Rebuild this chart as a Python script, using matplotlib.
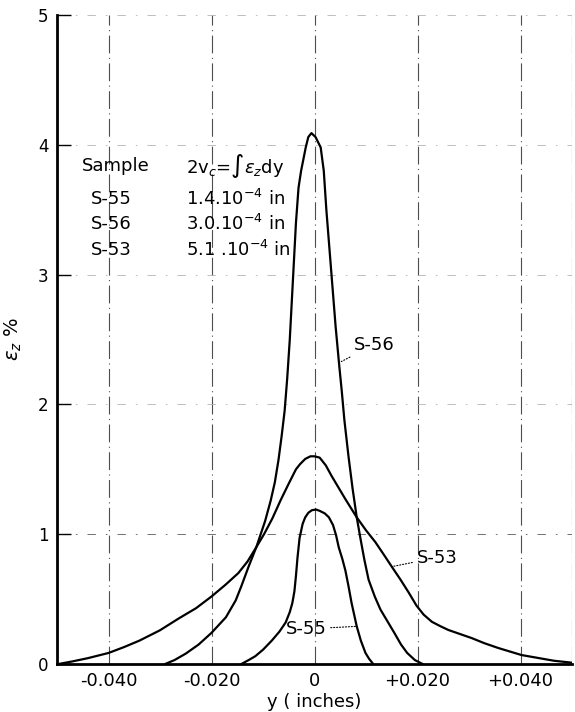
import numpy as np
import matplotlib
matplotlib.use("Agg")
import matplotlib.pyplot as plt

# values (y in inches, strain in %)
s55_y = [-0.0142, -0.0128, -0.0115, -0.0100, -0.0083, -0.0068, -0.0056, -0.0048,
         -0.0043, -0.0039, -0.0036, -0.0033, -0.0029, -0.0023, -0.0018, -0.0012,
         -0.0005, 0.0003, 0.0010, 0.0020, 0.0028, 0.0036, 0.0042, 0.0047, 0.0054,
         0.0060, 0.0066, 0.0072, 0.0077, 0.0082, 0.0090, 0.0099, 0.0106, 0.0114]
s55_e = [0.0, 0.03, 0.06, 0.11, 0.18, 0.25, 0.32, 0.40,
         0.47, 0.56, 0.68, 0.82, 0.97, 1.08, 1.13, 1.165,
         1.185, 1.19, 1.18, 1.16, 1.13, 1.07, 0.99, 0.90, 0.81,
         0.72, 0.60, 0.47, 0.38, 0.29, 0.18, 0.085, 0.04, 0.0]

s56_y = [-0.0290, -0.0272, -0.0250, -0.0225, -0.0200, -0.0172, -0.0153, -0.0142,
         -0.0128, -0.0113, -0.0096, -0.0085, -0.0077, -0.0070, -0.0064, -0.0058,
         -0.0053, -0.0048, -0.0044, -0.0040, -0.0036, -0.0031, -0.0026, -0.0017,
         -0.0012, -0.0006, 0.0002, 0.0012, 0.0018, 0.0023, 0.0029, 0.0035, 0.0041,
         0.0048, 0.0053, 0.0058, 0.0066, 0.0074, 0.0082, 0.0090, 0.0097, 0.0105,
         0.0117, 0.0128, 0.0140, 0.0155, 0.0168, 0.0180, 0.0195, 0.0210]
s56_e = [0.0, 0.03, 0.08, 0.15, 0.24, 0.36, 0.49, 0.60,
         0.75, 0.90, 1.10, 1.26, 1.40, 1.57, 1.75, 1.95,
         2.20, 2.50, 2.80, 3.10, 3.40, 3.67, 3.80, 3.98,
         4.06, 4.09, 4.06, 3.98, 3.80, 3.50, 3.20, 2.90, 2.60,
         2.30, 2.10, 1.88, 1.60, 1.35, 1.13, 0.95, 0.80, 0.65,
         0.52, 0.42, 0.34, 0.24, 0.15, 0.085, 0.03, 0.0]

s53_y = [-0.0497, -0.0470, -0.0440, -0.0400, -0.0370, -0.0340, -0.0300, -0.0264,
         -0.0230, -0.0200, -0.0173, -0.0148, -0.0130, -0.0113, -0.0098, -0.0082,
         -0.0066, -0.0050, -0.0036, -0.0028, -0.0018, -0.0008, 0.0, 0.0010, 0.0022,
         0.0033, 0.0045, 0.0060, 0.0082, 0.0100, 0.0118, 0.0135, 0.0150, 0.0167,
         0.0183, 0.0198, 0.0212, 0.0228, 0.0245, 0.0260, 0.0305, 0.0330, 0.0357,
         0.0402, 0.0435, 0.0465, 0.0500]
s53_e = [0.0, 0.02, 0.045, 0.085, 0.13, 0.18, 0.26, 0.35,
         0.43, 0.52, 0.61, 0.70, 0.79, 0.90, 1.00, 1.12,
         1.26, 1.39, 1.50, 1.54, 1.58, 1.60, 1.60, 1.59, 1.53,
         1.45, 1.37, 1.27, 1.13, 1.03, 0.94, 0.84, 0.75, 0.65,
         0.55, 0.45, 0.38, 0.325, 0.29, 0.262, 0.20, 0.16, 0.123,
         0.069, 0.046, 0.025, 0.01]

xticks = [-0.040, -0.020, 0.0, 0.020, 0.040]
xtick_labels = ["-0.040", "-0.020", "0", "+0.020", "+0.040"]
yticks = [0, 1, 2, 3, 4, 5]
vlines = [-0.040, -0.020, 0.0, 0.020, 0.040, 0.050]

samples = ["S-55", "S-56", "S-53"]
vc_values = [r"1.4.10$^{-4}$ in", r"3.0.10$^{-4}$ in", r"5.1 .10$^{-4}$ in"]

plt.rcParams["font.family"] = ["DejaVu Sans"]
plt.rcParams["mathtext.fontset"] = "dejavusans"

fig = plt.figure(figsize=(5.75, 7.12), dpi=100)
ax = fig.add_axes([57/575, 48/712, 515/575, 649/712])

# sparse dashed grid like the original graph paper
for v in vlines:
    ax.axvline(v, color="0.3", lw=0.8, ls=(0, (16, 4, 1, 4)), zorder=1)
for h in yticks[1:]:
    c = "0.35" if h == 1 else "0.7"
    ax.axhline(h, color=c, lw=0.6, ls=(0, (10, 12, 2, 12)), zorder=1)

for ys, es in [(s55_y, s55_e), (s56_y, s56_e), (s53_y, s53_e)]:
    ax.plot(ys, es, color="black", lw=1.6, zorder=3,
            solid_joinstyle="round", solid_capstyle="round")

ax.set_xlim(-0.050, 0.050)
ax.set_ylim(0, 5)
ax.set_xticks(xticks)
ax.set_xticklabels(xtick_labels)
ax.set_yticks(yticks)
ax.tick_params(axis="x", length=0, labelsize=13, pad=6)
ax.tick_params(axis="y", direction="in", length=10, width=1, labelsize=12, pad=6)

for s in ["top", "right"]:
    ax.spines[s].set_visible(False)
ax.spines["left"].set_linewidth(2)
ax.spines["bottom"].set_linewidth(2)

ax.set_xlabel("y ( inches)", fontsize=13, labelpad=2)
ax.set_ylabel(r"$\epsilon_z$ %", fontsize=14, labelpad=10)

# table of samples
ax.text(-0.0452, 3.84, "Sample", fontsize=13, ha="left", va="center")
ax.text(-0.0250, 3.84, r"2v$_c$=$\int\epsilon_z$dy", fontsize=13, ha="left", va="center")
rows_y = [3.58, 3.39, 3.19]
for name, val, ry in zip(samples, vc_values, rows_y):
    ax.text(-0.0435, ry, name, fontsize=13, ha="left", va="center")
    ax.text(-0.0249, ry, val, fontsize=13, ha="left", va="center")

# curve labels with dotted leaders
leader = dict(arrowstyle="-", lw=0.8, ls=":", color="black", shrinkA=1, shrinkB=0)
ax.annotate("S-56", xy=(0.0052, 2.33), xytext=(0.0076, 2.46), fontsize=13,
            ha="left", va="center", arrowprops=leader)
ax.annotate("S-53", xy=(0.0150, 0.75), xytext=(0.0198, 0.82), fontsize=13,
            ha="left", va="center", arrowprops=leader)
ax.annotate("S-55", xy=(0.0082, 0.29), xytext=(-0.0056, 0.27), fontsize=13,
            ha="left", va="center", arrowprops=leader)

fig.savefig("out.png", dpi=100)
